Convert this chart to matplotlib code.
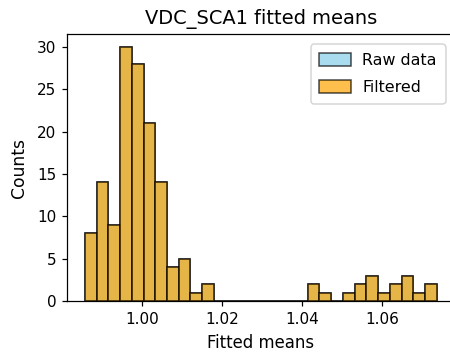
import numpy as np
import matplotlib
matplotlib.use("Agg")
import matplotlib.pyplot as plt

# Histogram data (30 equal bins)
bin_lo = 0.98564
bin_hi = 1.07373
n_bins = 30
raw_counts = [8, 14, 9, 30, 28, 21, 14, 4, 5, 1, 2, 0, 0, 0, 0,
              0, 0, 0, 0, 2, 1, 0, 1, 2, 3, 1, 2, 3, 1, 2]
filtered_counts = [8, 14, 9, 30, 28, 21, 14, 4, 5, 1, 2, 0, 0, 0, 0,
                   0, 0, 0, 0, 2, 1, 0, 1, 2, 3, 1, 2, 3, 1, 2]

title = "VDC_SCA1 fitted means"
xlabel = "Fitted means"
ylabel = "Counts"

edges = np.linspace(bin_lo, bin_hi, n_bins + 1)
centers = (edges[:-1] + edges[1:]) / 2

dpi = 110
fig = plt.figure(figsize=(450 / dpi, 355 / dpi), dpi=dpi)
ax = fig.add_axes([67.3 / 450, 1 - 301 / 355, (454.3 - 67.3) / 450, (301 - 34.3) / 355])

ax.hist(centers, bins=edges, weights=raw_counts, color="skyblue", alpha=0.7,
        edgecolor="black", linewidth=1.0, label="Raw data")
ax.hist(centers, bins=edges, weights=filtered_counts, color="orange", alpha=0.7,
        edgecolor="black", linewidth=1.0, label="Filtered")

ax.spines["right"].set_visible(False)
ax.set_xticks([1.00, 1.02, 1.04, 1.06])
ax.set_yticks([0, 5, 10, 15, 20, 25, 30])
ax.set_title(title, fontsize=12.7, pad=7)
ax.set_xlabel(xlabel, fontsize=10.8, labelpad=5)
ax.set_ylabel(ylabel, fontsize=11.2, labelpad=6)
ax.tick_params(labelsize=10)
ax.legend(loc="upper right", fontsize=10.4, labelspacing=0.75, borderpad=0.55,
          handlelength=2.0, handleheight=0.85, handletextpad=0.7,
          bbox_to_anchor=(0.998, 0.992))

fig.savefig("out.png", dpi=dpi)
